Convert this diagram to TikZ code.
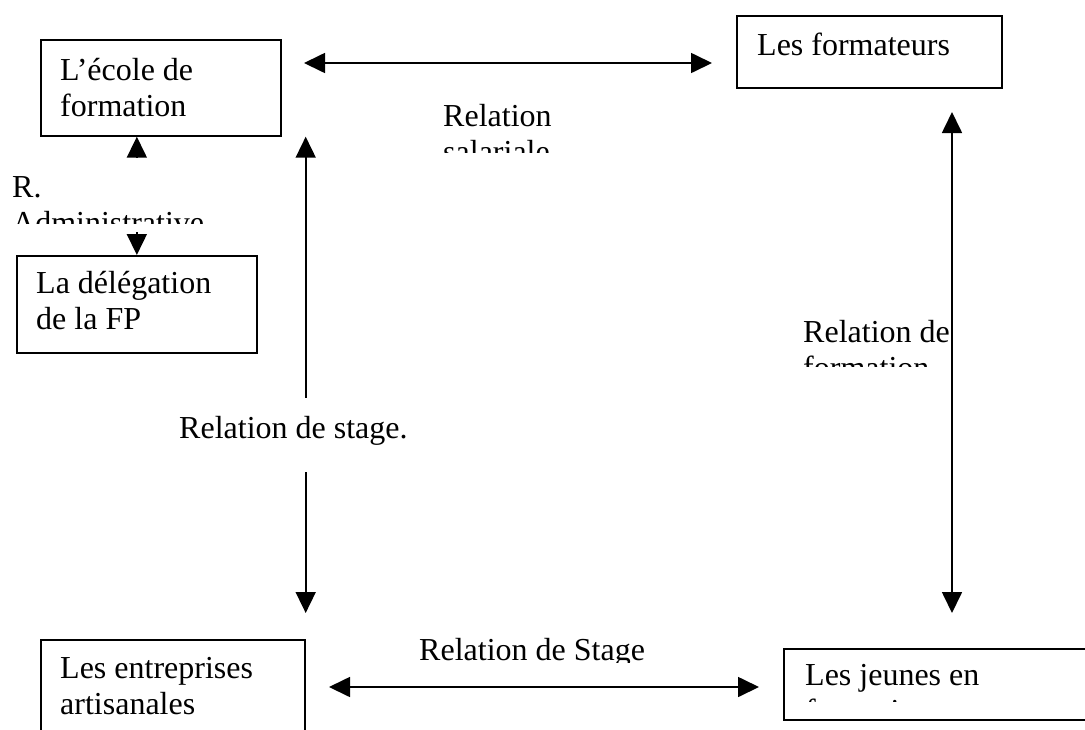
\documentclass[tikz,border=0pt]{standalone}
\usepackage{fontspec}
\setmainfont{Liberation Serif}
\usetikzlibrary{arrows.meta}
\begin{document}
\begin{tikzpicture}[x=1pt,y=-1pt,
  box/.style={draw, line width=1.7pt, inner sep=0pt, anchor=north west},
  txt/.style={inner sep=0pt, anchor=base west, font=\fontsize{32}{36}\selectfont},
  link/.style={line width=1.7pt, {Triangle[length=21pt,width=20pt]}-{Triangle[length=21pt,width=20pt]}},
  cover/.style={fill=white, draw=none, inner sep=0pt, anchor=north west}]
\clip (0,0) rectangle (1085,729);
\fill[white] (0,0) rectangle (1085,729);
% boxes
\node[box, minimum width=240pt, minimum height=96pt] (ecole) at (40,39) {};
\node[box, minimum width=265pt, minimum height=72pt] (form) at (736,15) {};
\node[box, minimum width=240pt, minimum height=97pt] (dele) at (16,255) {};
\node[box, minimum width=264pt, minimum height=121pt] (entr) at (40,639) {};
\node[box, minimum width=320pt, minimum height=71pt] (jeun) at (783,648) {};
% box texts
\node[txt] (ecole-t) at (60,80) {\vtop{\hbox{L’école de}\hbox{formation}}};
\node[txt] (form-t) at (757,55) {Les formateurs};
\node[txt] (dele-t) at (36,293) {\vtop{\hbox{La délégation}\hbox{de la FP}}};
\node[txt] (entr-t) at (60,678) {\vtop{\hbox{Les entreprises}\hbox{artisanales}}};
\begin{scope}
  \clip (785,650) rectangle (1085,701);
  \node[txt] (jeun-t) at (805,685) {\vtop{\hbox{Les jeunes en}\hbox{formation}}};
\end{scope}
% connector end points
\coordinate (t1) at (304,63);
\coordinate (t2) at (712,63);
\coordinate (r1) at (952,112);
\coordinate (r2) at (952,613);
\coordinate (b1) at (329,687);
\coordinate (b2) at (759,687);
% connectors
\draw[link] (t1) -- (t2);
\draw[link] (dele.north |- ecole.south) -- (dele.north);
\draw[link] (ecole.south -| entr.north east) -- ([yshift=26pt]entr.north east);
\draw[link] (r1) -- (r2);
\draw[link] (b1) -- (b2);
% labels
\node[cover, minimum width=205pt, minimum height=74pt] (radm) at (5,158) {};
\begin{scope}
  \clip (0,158) rectangle (220,223);
  \node[txt] (radm-t) at (12,197) {\vtop{\hbox{R.}\hbox{Administrative}}};
\end{scope}
\node[cover, minimum width=250pt, minimum height=74pt] (rstage) at (170,398) {};
\node[txt] (rstage-t) at (179,438) {Relation de stage.};
\begin{scope}
  \clip (430,90) rectangle (620,152);
  \node[txt] (rsal-t) at (443,126) {\vtop{\hbox{Relation}\hbox{salariale}}};
\end{scope}
\begin{scope}
  \clip (790,300) rectangle (950,366);
  \node[txt] (rform-t) at (803,342) {\vtop{\hbox{Relation de}\hbox{formation}}};
\end{scope}
\begin{scope}
  \clip (400,600) rectangle (670,662);
  \node[txt] (rst-t) at (419,660) {Relation de Stage};
\end{scope}
\end{tikzpicture}
\end{document}
